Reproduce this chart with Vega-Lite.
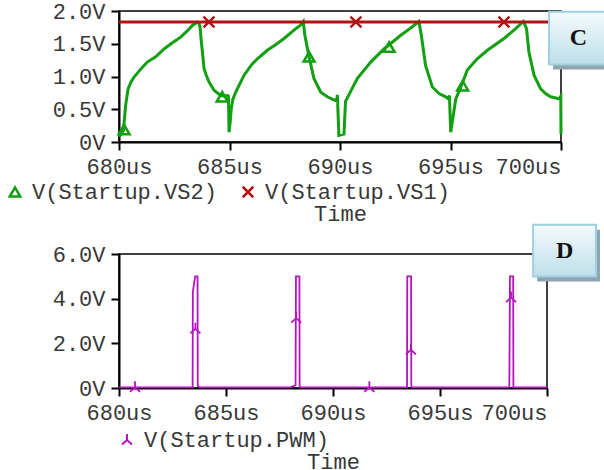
{
  "$schema": "https://vega.github.io/schema/vega-lite/v6.json",
  "background": "white",
  "padding": {"left": -16, "top": -1, "right": 0, "bottom": 0},
  "spacing": -3,
  "align": "none",
  "resolve": {"scale": {"color": "independent", "shape": "independent", "x": "independent", "y": "independent"}, "legend": {"color": "independent", "shape": "independent"}},
  "config": {
    "font": "Liberation Mono",
    "view": {"stroke": "black", "strokeWidth": 1.5},
    "axis": {
      "labelFont": "Liberation Mono", "labelFontSize": 22, "labelColor": "#383838",
      "domainColor": "black", "domainWidth": 2, "tickColor": "black", "tickWidth": 2, "tickSize": 8,
      "grid": false, "titleFont": "Liberation Mono", "titleFontSize": 22, "titleFontWeight": "normal", "titleColor": "#383838",
      "labelPadding": 6
    },
    "legend": {"labelFont": "Liberation Mono", "labelFontSize": 22, "labelColor": "#383838", "labelLimit": 400}
  },
  "datasets": {
    "vs": [
      {"s": "V(Startup.VS2)", "t": 680.0, "v": 0.08},
      {"s": "V(Startup.VS2)", "t": 680.1, "v": 0.12},
      {"s": "V(Startup.VS2)", "t": 680.2, "v": 0.18},
      {"s": "V(Startup.VS2)", "t": 680.3, "v": 0.56},
      {"s": "V(Startup.VS2)", "t": 680.41, "v": 0.81},
      {"s": "V(Startup.VS2)", "t": 680.55, "v": 0.92},
      {"s": "V(Startup.VS2)", "t": 680.68, "v": 0.99},
      {"s": "V(Startup.VS2)", "t": 681.0, "v": 1.12},
      {"s": "V(Startup.VS2)", "t": 681.28, "v": 1.22},
      {"s": "V(Startup.VS2)", "t": 681.66, "v": 1.3},
      {"s": "V(Startup.VS2)", "t": 682.04, "v": 1.42},
      {"s": "V(Startup.VS2)", "t": 682.4, "v": 1.51},
      {"s": "V(Startup.VS2)", "t": 682.79, "v": 1.6},
      {"s": "V(Startup.VS2)", "t": 683.1, "v": 1.7},
      {"s": "V(Startup.VS2)", "t": 683.32, "v": 1.78},
      {"s": "V(Startup.VS2)", "t": 683.54, "v": 1.83},
      {"s": "V(Startup.VS2)", "t": 683.62, "v": 1.81},
      {"s": "V(Startup.VS2)", "t": 683.67, "v": 1.75},
      {"s": "V(Startup.VS2)", "t": 683.72, "v": 1.55},
      {"s": "V(Startup.VS2)", "t": 683.76, "v": 1.42},
      {"s": "V(Startup.VS2)", "t": 683.85, "v": 1.12},
      {"s": "V(Startup.VS2)", "t": 683.95, "v": 1.02},
      {"s": "V(Startup.VS2)", "t": 684.07, "v": 0.92},
      {"s": "V(Startup.VS2)", "t": 684.3, "v": 0.79},
      {"s": "V(Startup.VS2)", "t": 684.6, "v": 0.71},
      {"s": "V(Startup.VS2)", "t": 684.8, "v": 0.7},
      {"s": "V(Startup.VS2)", "t": 684.9, "v": 0.71},
      {"s": "V(Startup.VS2)", "t": 684.95, "v": 0.7},
      {"s": "V(Startup.VS2)", "t": 684.98, "v": 0.15},
      {"s": "V(Startup.VS2)", "t": 685.03, "v": 0.3},
      {"s": "V(Startup.VS2)", "t": 685.08, "v": 0.51},
      {"s": "V(Startup.VS2)", "t": 685.15, "v": 0.65},
      {"s": "V(Startup.VS2)", "t": 685.28, "v": 0.76},
      {"s": "V(Startup.VS2)", "t": 685.66, "v": 1.02},
      {"s": "V(Startup.VS2)", "t": 686.0, "v": 1.18},
      {"s": "V(Startup.VS2)", "t": 686.26, "v": 1.27},
      {"s": "V(Startup.VS2)", "t": 686.71, "v": 1.4},
      {"s": "V(Startup.VS2)", "t": 687.1, "v": 1.49},
      {"s": "V(Startup.VS2)", "t": 687.47, "v": 1.58},
      {"s": "V(Startup.VS2)", "t": 688.0, "v": 1.73},
      {"s": "V(Startup.VS2)", "t": 688.2, "v": 1.78},
      {"s": "V(Startup.VS2)", "t": 688.34, "v": 1.84},
      {"s": "V(Startup.VS2)", "t": 688.41, "v": 1.63},
      {"s": "V(Startup.VS2)", "t": 688.6, "v": 1.3},
      {"s": "V(Startup.VS2)", "t": 688.82, "v": 0.97},
      {"s": "V(Startup.VS2)", "t": 689.13, "v": 0.76},
      {"s": "V(Startup.VS2)", "t": 689.43, "v": 0.69},
      {"s": "V(Startup.VS2)", "t": 689.73, "v": 0.64},
      {"s": "V(Startup.VS2)", "t": 689.85, "v": 0.63},
      {"s": "V(Startup.VS2)", "t": 689.88, "v": 0.72},
      {"s": "V(Startup.VS2)", "t": 689.95, "v": 0.1},
      {"s": "V(Startup.VS2)", "t": 690.18, "v": 0.12},
      {"s": "V(Startup.VS2)", "t": 690.25, "v": 0.62},
      {"s": "V(Startup.VS2)", "t": 690.4, "v": 0.72},
      {"s": "V(Startup.VS2)", "t": 690.78, "v": 0.97},
      {"s": "V(Startup.VS2)", "t": 691.39, "v": 1.22},
      {"s": "V(Startup.VS2)", "t": 691.99, "v": 1.42},
      {"s": "V(Startup.VS2)", "t": 692.75, "v": 1.63},
      {"s": "V(Startup.VS2)", "t": 693.2, "v": 1.74},
      {"s": "V(Startup.VS2)", "t": 693.57, "v": 1.84},
      {"s": "V(Startup.VS2)", "t": 693.68, "v": 1.63},
      {"s": "V(Startup.VS2)", "t": 693.87, "v": 1.17},
      {"s": "V(Startup.VS2)", "t": 694.18, "v": 0.84},
      {"s": "V(Startup.VS2)", "t": 694.48, "v": 0.74},
      {"s": "V(Startup.VS2)", "t": 694.78, "v": 0.69},
      {"s": "V(Startup.VS2)", "t": 694.9, "v": 0.66},
      {"s": "V(Startup.VS2)", "t": 694.95, "v": 0.71},
      {"s": "V(Startup.VS2)", "t": 695.01, "v": 0.15},
      {"s": "V(Startup.VS2)", "t": 695.24, "v": 0.66},
      {"s": "V(Startup.VS2)", "t": 695.45, "v": 0.82},
      {"s": "V(Startup.VS2)", "t": 695.76, "v": 1.1},
      {"s": "V(Startup.VS2)", "t": 696.21, "v": 1.27},
      {"s": "V(Startup.VS2)", "t": 696.67, "v": 1.4},
      {"s": "V(Startup.VS2)", "t": 697.42, "v": 1.58},
      {"s": "V(Startup.VS2)", "t": 697.95, "v": 1.73},
      {"s": "V(Startup.VS2)", "t": 698.3, "v": 1.84},
      {"s": "V(Startup.VS2)", "t": 698.44, "v": 1.73},
      {"s": "V(Startup.VS2)", "t": 698.55, "v": 1.37},
      {"s": "V(Startup.VS2)", "t": 698.78, "v": 1.02},
      {"s": "V(Startup.VS2)", "t": 699.08, "v": 0.81},
      {"s": "V(Startup.VS2)", "t": 699.3, "v": 0.74},
      {"s": "V(Startup.VS2)", "t": 699.53, "v": 0.69},
      {"s": "V(Startup.VS2)", "t": 699.91, "v": 0.66},
      {"s": "V(Startup.VS2)", "t": 699.99, "v": 0.7},
      {"s": "V(Startup.VS2)", "t": 700.0, "v": 0.12},
      {"s": "V(Startup.VS1)", "t": 680.0, "v": 1.832},
      {"s": "V(Startup.VS1)", "t": 700.0, "v": 1.832}
    ],
    "vsMarkers": [
      {"s": "V(Startup.VS2)", "t": 680.23, "v": 0.19},
      {"s": "V(Startup.VS2)", "t": 684.67, "v": 0.69},
      {"s": "V(Startup.VS2)", "t": 688.6, "v": 1.3},
      {"s": "V(Startup.VS2)", "t": 692.22, "v": 1.45},
      {"s": "V(Startup.VS2)", "t": 695.55, "v": 0.86},
      {"s": "V(Startup.VS1)", "t": 684.07, "v": 1.832},
      {"s": "V(Startup.VS1)", "t": 690.72, "v": 1.832},
      {"s": "V(Startup.VS1)", "t": 697.42, "v": 1.832}
    ],
    "pwm": [
      {"s": "V(Startup.PWM)", "t": 680.0, "v": 0.03},
      {"s": "V(Startup.PWM)", "t": 683.44, "v": 0.03},
      {"s": "V(Startup.PWM)", "t": 683.45, "v": 4.3},
      {"s": "V(Startup.PWM)", "t": 683.56, "v": 5.0},
      {"s": "V(Startup.PWM)", "t": 683.67, "v": 5.0},
      {"s": "V(Startup.PWM)", "t": 683.68, "v": 0.1},
      {"s": "V(Startup.PWM)", "t": 683.76, "v": 0.03},
      {"s": "V(Startup.PWM)", "t": 687.99, "v": 0.03},
      {"s": "V(Startup.PWM)", "t": 688.25, "v": 0.12},
      {"s": "V(Startup.PWM)", "t": 688.27, "v": 5.0},
      {"s": "V(Startup.PWM)", "t": 688.43, "v": 5.0},
      {"s": "V(Startup.PWM)", "t": 688.44, "v": 0.03},
      {"s": "V(Startup.PWM)", "t": 693.46, "v": 0.03},
      {"s": "V(Startup.PWM)", "t": 693.47, "v": 5.0},
      {"s": "V(Startup.PWM)", "t": 693.65, "v": 5.0},
      {"s": "V(Startup.PWM)", "t": 693.66, "v": 0.03},
      {"s": "V(Startup.PWM)", "t": 698.24, "v": 0.03},
      {"s": "V(Startup.PWM)", "t": 698.27, "v": 5.0},
      {"s": "V(Startup.PWM)", "t": 698.42, "v": 5.0},
      {"s": "V(Startup.PWM)", "t": 698.43, "v": 0.03},
      {"s": "V(Startup.PWM)", "t": 700.0, "v": 0.03}
    ],
    "pwmMarkers": [
      {"s": "V(Startup.PWM)", "t": 680.75, "v": 0.03},
      {"s": "V(Startup.PWM)", "t": 683.57, "v": 2.65},
      {"s": "V(Startup.PWM)", "t": 688.28, "v": 3.13},
      {"s": "V(Startup.PWM)", "t": 691.7, "v": 0.03},
      {"s": "V(Startup.PWM)", "t": 693.64, "v": 1.71},
      {"s": "V(Startup.PWM)", "t": 698.32, "v": 4.05}
    ],
    "boxC": [{"label": "C", "t": 699.46, "t2": 702.2, "v": 1.99, "v2": 1.185, "tm": 700.79, "vm": 1.59}],
    "boxD": [{"label": "D", "t": 699.35, "t2": 702.29, "v": 7.31, "v2": 4.99, "tm": 700.82, "vm": 6.15}]
  },
  "vconcat": [
    {
      "width": 442,
      "height": 131,
      "encoding": {
        "x": {"field": "t", "type": "quantitative", "scale": {"domain": [680, 700], "nice": false, "zero": false},
          "axis": {"values": [680, 685, 690, 695, 700], "labelExpr": "format(datum.value, 'd') + 'us'",
            "labelAlign": {"condition": {"test": "datum.value === 700", "value": "right"}, "value": "center"},
            "labelFlush": false, "labelBound": false, "labelOverlap": false, "title": "Time", "titlePadding": 26}},
        "y": {"field": "v", "type": "quantitative", "scale": {"domain": [0, 2], "nice": false, "zero": false},
          "axis": {"values": [0, 0.5, 1, 1.5, 2], "labelExpr": "datum.value === 0 ? '0V' : format(datum.value, '.1f') + 'V'",
            "title": " ", "titleAngle": 0, "titleX": -130, "titleY": 60, "titleAlign": "left"}}
      },
      "layer": [
        {
          "data": {"name": "vs"},
          "mark": {"type": "line", "strokeWidth": 3, "interpolate": "linear"},
          "encoding": {
            "color": {"field": "s", "type": "nominal", "scale": {"domain": ["V(Startup.VS2)", "V(Startup.VS1)"], "range": ["#12a012", "#b01414"]}},
            "order": {"value": null}
          }
        },
        {
          "data": {"name": "vsMarkers"},
          "mark": {"type": "point", "filled": false, "strokeWidth": 2.5, "size": 120, "opacity": 1},
          "encoding": {
            "color": {"field": "s", "type": "nominal",
              "legend": {"orient": "none", "legendX": -115, "legendY": 170, "direction": "horizontal", "title": null, "columnPadding": 20, "labelOffset": 6, "symbolSize": 110, "symbolStrokeWidth": 2.5}},
            "shape": {"field": "s", "type": "nominal", "scale": {"domain": ["V(Startup.VS2)", "V(Startup.VS1)"], "range": ["triangle-up", "M-1,-1L1,1M-1,1L1,-1"]},
              "legend": {"orient": "none", "legendX": -115, "legendY": 170, "direction": "horizontal", "title": null, "columnPadding": 20, "labelOffset": 6, "symbolSize": 110, "symbolStrokeWidth": 2.5}}
          }
        },
        {
          "data": {"name": "boxC"},
          "mark": {"type": "rect", "fill": "#8fa4ac", "xOffset": 4, "x2Offset": 4, "yOffset": 5, "y2Offset": 5},
          "encoding": {"x2": {"field": "t2"}, "y2": {"field": "v2"}}
        },
        {
          "data": {"name": "boxC"},
          "mark": {"type": "rect", "stroke": "#9fd0e0", "strokeWidth": 2,
            "fill": {"gradient": "linear", "x1": 0, "y1": 0, "x2": 0, "y2": 1, "stops": [{"offset": 0, "color": "#f4fafc"}, {"offset": 1, "color": "#bddfea"}]}},
          "encoding": {"x2": {"field": "t2"}, "y2": {"field": "v2"}}
        },
        {
          "data": {"name": "boxC"},
          "mark": {"type": "text", "font": "Liberation Serif", "fontSize": 24, "fontWeight": "bold", "color": "#111111", "baseline": "middle", "align": "center"},
          "encoding": {"x": {"field": "tm", "type": "quantitative"}, "y": {"field": "vm", "type": "quantitative"}, "text": {"field": "label"}}
        }
      ]
    },
    {
      "width": 428,
      "height": 134,
      "encoding": {
        "x": {"field": "t", "type": "quantitative", "scale": {"domain": [680, 700], "nice": false, "zero": false},
          "axis": {"values": [680, 685, 690, 695, 700], "labelExpr": "format(datum.value, 'd') + 'us'",
            "labelAlign": {"condition": {"test": "datum.value === 700", "value": "right"}, "value": "center"},
            "labelFlush": false, "labelBound": false, "labelOverlap": false, "title": "Time", "titlePadding": 28}},
        "y": {"field": "v", "type": "quantitative", "scale": {"domain": [0, 6], "nice": false, "zero": false},
          "axis": {"values": [0, 2, 4, 6], "labelExpr": "datum.value === 0 ? '0V' : format(datum.value, '.1f') + 'V'",
            "title": " ", "titleAngle": 0, "titleX": -134, "titleY": 60, "titleAlign": "left"}}
      },
      "layer": [
        {
          "data": {"name": "pwm"},
          "mark": {"type": "line", "strokeWidth": 1.8, "interpolate": "linear"},
          "encoding": {
            "color": {"field": "s", "type": "nominal", "scale": {"domain": ["V(Startup.PWM)"], "range": ["#b414be"]}},
            "order": {"value": null}
          }
        },
        {
          "data": {"name": "pwmMarkers"},
          "mark": {"type": "point", "filled": false, "strokeWidth": 1.8, "size": 100, "opacity": 1},
          "encoding": {
            "color": {"field": "s", "type": "nominal",
              "legend": {"orient": "none", "legendX": -3, "legendY": 175, "direction": "horizontal", "title": null, "labelOffset": 6, "symbolSize": 100, "symbolStrokeWidth": 2}},
            "shape": {"field": "s", "type": "nominal", "scale": {"domain": ["V(Startup.PWM)"], "range": ["M0,-1.2L0,0M-1,0.9L0,0L1,0.9"]},
              "legend": {"orient": "none", "legendX": -3, "legendY": 175, "direction": "horizontal", "title": null, "labelOffset": 6, "symbolSize": 100, "symbolStrokeWidth": 2}}
          }
        },
        {
          "data": {"name": "boxD"},
          "mark": {"type": "rect", "fill": "#8fa4ac", "xOffset": 4, "x2Offset": 4, "yOffset": 5, "y2Offset": 5},
          "encoding": {"x2": {"field": "t2"}, "y2": {"field": "v2"}}
        },
        {
          "data": {"name": "boxD"},
          "mark": {"type": "rect", "stroke": "#9fd0e0", "strokeWidth": 2,
            "fill": {"gradient": "linear", "x1": 0, "y1": 0, "x2": 0, "y2": 1, "stops": [{"offset": 0, "color": "#f4fafc"}, {"offset": 1, "color": "#bddfea"}]}},
          "encoding": {"x2": {"field": "t2"}, "y2": {"field": "v2"}}
        },
        {
          "data": {"name": "boxD"},
          "mark": {"type": "text", "font": "Liberation Serif", "fontSize": 24, "fontWeight": "bold", "color": "#111111", "baseline": "middle", "align": "center"},
          "encoding": {"x": {"field": "tm", "type": "quantitative"}, "y": {"field": "vm", "type": "quantitative"}, "text": {"field": "label"}}
        }
      ]
    }
  ]
}
